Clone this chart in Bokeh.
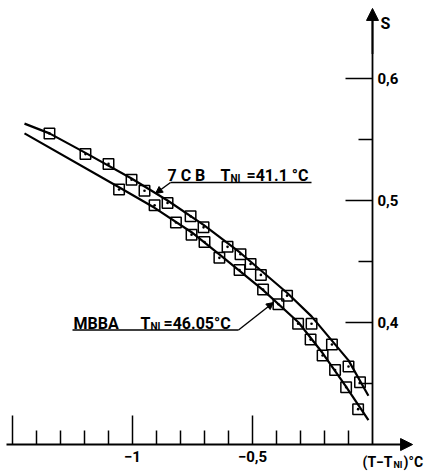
from bokeh.plotting import figure
from bokeh.models import Range1d, LinearAxis, FixedTicker, Arrow, NormalHead, Label
from bokeh.embed import file_html
from bokeh.resources import INLINE

# ---- data: S vs (T - T_NI) ----
cb7_dT = [-1.346, -1.196, -1.100, -1.004, -0.950, -0.854, -0.758, -0.704, -0.604,
          -0.550, -0.508, -0.465, -0.356, -0.254, -0.169, -0.100, -0.052]
cb7_S = [0.555, 0.538, 0.530, 0.517, 0.508, 0.498, 0.487, 0.478, 0.462,
         0.456, 0.448, 0.439, 0.422, 0.399, 0.382, 0.364, 0.351]

mbba_dT = [-1.056, -0.908, -0.819, -0.754, -0.700, -0.638, -0.554, -0.456, -0.392,
           -0.310, -0.258, -0.208, -0.156, -0.110, -0.060]
mbba_S = [0.509, 0.496, 0.482, 0.472, 0.466, 0.453, 0.443, 0.427, 0.415,
          0.399, 0.386, 0.373, 0.361, 0.347, 0.329]

# drawn curves (nodes)
cb7_fit_dT = [-1.45, -1.346, -1.196, -1.004, -0.854, -0.704, -0.55, -0.354, -0.254, -0.1, -0.017]
cb7_fit_S = [0.563, 0.555, 0.539, 0.518, 0.500, 0.480, 0.457, 0.424, 0.405, 0.369, 0.340]
mbba_fit_dT = [-1.45, -1.058, -0.908, -0.754, -0.633, -0.458, -0.308, -0.208, -0.1125, -0.058, -0.017]
mbba_fit_S = [0.555, 0.511, 0.494, 0.474, 0.455, 0.427, 0.400, 0.375, 0.348, 0.332, 0.320]

# axes ticks and labels
x_major = [-1.5, -1.0, -0.5]
x_minor = [-1.4, -1.3, -1.2, -1.1, -0.9, -0.8, -0.7, -0.6, -0.4, -0.3, -0.2, -0.1]
x_labels = {-1.5: "", -1.0: "\u22121", -0.5: "\u22120,5"}
y_major = [0.4, 0.5, 0.6]
y_minor = [0.35, 0.45, 0.55]
y_labels = {0.4: "0,4", 0.5: "0,5", 0.6: "0,6"}

FONT = "Roboto"

p = figure(width=428, height=471, x_range=Range1d(-1.55, 0.2333), y_range=Range1d(0.2779, 0.6639),
           output_backend="svg", toolbar_location=None, x_axis_type=None, y_axis_type=None,
           min_border=0, outline_line_color=None, background_fill_color="white",
           border_fill_color="white")
p.grid.visible = False


def X(px):
    return (px - 372) / 240.0


def Y(py):
    return 0.4 + (322 - py) / 1220.0


xaxis = LinearAxis(fixed_location=0.30, bounds=(-1.525, 0.16),
                   ticker=FixedTicker(ticks=x_major, minor_ticks=x_minor),
                   major_label_overrides=x_labels,
                   major_tick_in=29, major_tick_out=0, minor_tick_in=14, minor_tick_out=0,
                   axis_line_width=1.8, major_tick_line_width=1.5, minor_tick_line_width=1.5,
                   major_label_text_font=FONT, major_label_text_font_size="15px",
                   major_label_text_font_style="bold",
                   major_label_text_color="black", major_label_standoff=6)
p.add_layout(xaxis, "below")

yaxis = LinearAxis(fixed_location=0.0, bounds=(0.30, 0.65),
                   ticker=FixedTicker(ticks=y_major, minor_ticks=y_minor),
                   major_label_overrides=y_labels,
                   major_tick_in=27, major_tick_out=0, minor_tick_in=14, minor_tick_out=0,
                   axis_line_width=1.8, major_tick_line_width=1.5, minor_tick_line_width=1.5,
                   major_label_text_font=FONT, major_label_text_font_size="15px",
                   major_label_text_font_style="bold",
                   major_label_text_color="black", major_label_standoff=5)
p.add_layout(yaxis, "right")

# axis arrows
p.add_layout(Arrow(end=NormalHead(size=12, fill_color="black", line_color="black", line_width=1),
                   x_start=0.12, y_start=0.30, x_end=0.167, y_end=0.30, line_width=1.8))
p.add_layout(Arrow(end=NormalHead(size=12, fill_color="black", line_color="black", line_width=1),
                   x_start=0.0, y_start=0.62, x_end=0.0, y_end=0.6574, line_width=1.8))

# curves and points
p.line(cb7_fit_dT, cb7_fit_S, line_color="black", line_width=2.2)
p.line(mbba_fit_dT, mbba_fit_S, line_color="black", line_width=2.2)
p.scatter(cb7_dT, cb7_S, marker="square_dot", size=10.5, fill_color=None,
          line_color="black", line_width=1.5)
p.scatter(mbba_dT, mbba_S, marker="square_dot", size=10.5, fill_color=None,
          line_color="black", line_width=1.5)


def lab(px, py, text, size="16px"):
    p.add_layout(Label(x=X(px), y=Y(py), text=text, text_font=FONT, text_font_size=size,
                       text_font_style="bold", text_color="black",
                       text_baseline="alphabetic", text_align="left"))


# 7CB annotation
lab(167, 175, "7 C B")
lab(220, 175, "T")
lab(230, 178, "NI", "10px")
lab(246, 175, "=41.1 \u00b0C")
p.line([X(311), X(170)], [Y(182), Y(182)], line_color="black", line_width=1.4)
p.add_layout(Arrow(end=NormalHead(size=7, fill_color="black", line_color="black", line_width=1),
                   x_start=X(170), y_start=Y(182), x_end=X(155), y_end=Y(193), line_width=1.4))

# MBBA annotation
lab(73, 323, "MBBA")
lab(140, 323, "T")
lab(150, 326, "NI", "10px")
lab(163, 323, "=46.05\u00b0C")
p.line([X(72), X(238)], [Y(329.5), Y(329.5)], line_color="black", line_width=1.4)
p.add_layout(Arrow(end=NormalHead(size=7, fill_color="black", line_color="black", line_width=1),
                   x_start=X(238), y_start=Y(329.5), x_end=X(273), y_end=Y(302), line_width=1.4))

# axis titles
lab(380, 23, "S")
lab(362, 461, "(T\u2212T", "14px")
lab(393, 464, "NI", "9px")
lab(403, 461, ")\u00b0C", "14px")

open("out.html", "w").write(file_html(p, INLINE))
